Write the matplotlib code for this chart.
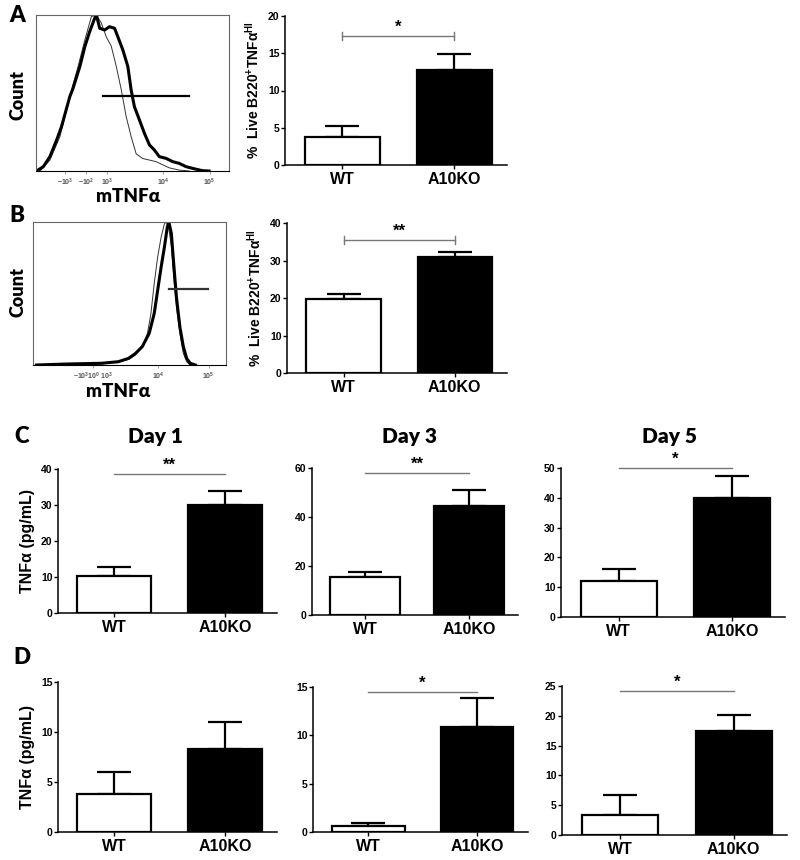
import matplotlib
matplotlib.use('Agg')
import matplotlib.pyplot as plt
import numpy as np

plt.rcParams['font.family'] = ['Liberation Sans', 'DejaVu Sans']
plt.rcParams['font.weight'] = 'bold'
plt.rcParams['mathtext.fontset'] = 'custom'
plt.rcParams['mathtext.rm'] = 'Liberation Sans:bold'
plt.rcParams['mathtext.bf'] = 'Liberation Sans:bold'
plt.rcParams['mathtext.it'] = 'Liberation Sans:bold'

# ---- data ----
groups = ['WT', 'A10KO']

# flow histograms (x = position across plot in %, y = % of max count)
a_x_thick = [0.3, 3.8, 7.2, 10.7, 13.2, 17.5, 19.2, 22.7, 25.3, 27.8, 30.4, 31.3, 33.0, 35.6, 38.1, 40.7, 42.4,
             45.0, 47.6, 49.3, 51.0, 53.6, 56.2, 58.8, 61.3, 63.9, 67.4, 70.8, 74.2, 77.7, 81.1, 86.3, 89.7]
a_y_thick = [0, 2.8, 9.2, 19.9, 28.4, 47.6, 53.0, 66.9, 79.7, 89.3, 97.9, 100, 91.5, 90.4, 92.5, 91.5, 86.1,
             77.6, 66.9, 51.9, 41.2, 32.7, 24.1, 16.7, 13.5, 9.2, 8.1, 6.0, 4.9, 2.8, 1.7, 0.2, 0]
a_x_thin = [2.1, 7.2, 12.4, 15.8, 18.4, 21.8, 25.3, 28.7, 31.3, 33.8, 36.4, 39.0, 41.6, 44.2, 46.7, 49.3,
            51.9, 55.3, 58.8, 62.2, 65.6, 69.1, 74.2, 79.4]
a_y_thin = [0, 7, 22, 39, 52, 67, 84, 99, 100, 95, 86, 80, 67, 52, 35, 22, 11, 8, 7, 6, 4, 2, 0.6, 0]
a_gate = [34.7, 79.4, 48]
a_ticks = [15, 26, 37, 66, 90]
a_ticklabels = [r'$-10^3$', r'$-10^2$', r'$10^3$', r'$10^4$', r'$10^5$']

b_x_thick = [1.8, 17.7, 35.4, 44.2, 49.6, 53.1, 56.6, 60.2, 62.8, 64.6, 66.4, 68.1, 69.6, 70.4, 71.7, 72.9,
             74.3, 76.1, 77.9, 79.6, 81.4, 84.1]
b_y_thick = [0, 0.7, 1.2, 2.3, 4.7, 8.1, 12.8, 22.1, 36.0, 52.3, 68.6, 82.6, 96.5, 100, 91.9, 70.9,
             47.7, 26.7, 12.8, 4.7, 1.2, 0]
b_x_thin = [1.8, 17.7, 35.4, 44.2, 49.6, 53.1, 56.6, 59.3, 61.1, 62.8, 64.6, 66.4, 68.1, 69.0, 70.3, 71.7,
            72.9, 74.3, 76.1, 77.9, 79.6, 81.4]
b_y_thin = [0, 0.5, 0.7, 2.3, 3.9, 7.0, 12.8, 22.1, 36.0, 57.0, 75.6, 89.5, 98.8, 100, 96.5, 82.6,
            61.6, 40.7, 22.1, 8.1, 2.3, 0]
b_gate = [70.3, 90.6, 52.8]
b_ticks = [31, 65, 91]
b_ticklabels = [r'$-10^3 10^0\ 10^3$', r'$10^4$', r'$10^5$']

# bar panels: means and SEM
a_mean, a_err = [3.8, 12.8], [1.4, 2.1]
b_mean, b_err = [19.8, 31.0], [1.2, 1.3]
c1_mean, c1_err = [10.2, 30.0], [2.5, 4.0]
c3_mean, c3_err = [15.5, 44.5], [2.0, 6.5]
c5_mean, c5_err = [12.0, 40.0], [4.0, 7.3]
d1_mean, d1_err = [3.8, 8.3], [2.2, 2.7]
d3_mean, d3_err = [0.6, 10.9], [0.35, 3.0]
d5_mean, d5_err = [3.4, 17.5], [3.3, 2.7]

W, H = 800, 860
fig = plt.figure(figsize=(8, 8.6), dpi=100)


def px_axes(l, t, r, b):
    return fig.add_axes([l / W, 1 - b / H, (r - l) / W, (b - t) / H])


def hist_panel(rect, xs1, ys1, xs2, ys2, gate, ticks, ticklabels, gate_col):
    ax = px_axes(*rect)
    ax.plot(xs2, ys2, color='#333333', lw=0.7)
    ax.plot(xs1, ys1, color='k', lw=2.2)
    ax.plot(gate[:2], [gate[2], gate[2]], color=gate_col, lw=1.6)
    ax.set_xlim(0, 100)
    ax.set_ylim(0, 100)
    ax.set_yticks([])
    ax.set_xticks(ticks)
    ax.set_xticklabels(ticklabels, fontsize=5, color='#555555')
    ax.tick_params(axis='x', length=2, width=0.5, color='#777777', pad=2)
    for s in ax.spines.values():
        s.set_color('#666666')
        s.set_linewidth(0.8)
    ax.spines['bottom'].set_color('k')
    return ax


def bar_panel(rect, mean, err, ymax, step, sig=None, bracket=False, ylabel=None, ylab_size=11.5):
    ax = px_axes(*rect)
    x = np.arange(len(groups))
    ax.bar(x, mean, width=0.67, color=['white', 'black'], edgecolor='black', linewidth=1.6, zorder=2)
    ax.errorbar(x, mean, yerr=[np.zeros(len(err)), err], fmt='none', ecolor='black',
                elinewidth=1.6, capsize=12, capthick=1.6, zorder=1)
    ax.set_xlim(-0.51, 1.47)
    ax.set_ylim(0, ymax)
    ax.set_yticks(np.arange(0, ymax + 0.01, step))
    ax.set_yticklabels([f'{v:g}' for v in np.arange(0, ymax + 0.01, step)], fontsize=7.5, fontweight='bold')
    ax.set_xticks(x)
    ax.set_xticklabels(groups, fontsize=11.5, fontweight='bold')
    ax.tick_params(axis='y', length=3, width=1, pad=1)
    ax.tick_params(axis='x', length=3, width=1, pad=2)
    for s in ['top', 'right']:
        ax.spines[s].set_visible(False)
    for s in ['left', 'bottom']:
        ax.spines[s].set_linewidth(1.1)
    if sig is not None:
        level, stars = sig
        ax.plot([0, 1], [level, level], color='#777777', lw=1.0, clip_on=False)
        if bracket:
            d = ymax * 0.025
            ax.plot([0, 0], [level - d, level + d], color='#777777', lw=1.0, clip_on=False)
            ax.plot([1, 1], [level - d, level + d], color='#777777', lw=1.0, clip_on=False)
        ax.text(0.5, level + ymax * 0.01, stars, ha='center', va='bottom', fontsize=12,
                fontweight='bold', clip_on=False)
    if ylabel:
        ax.set_ylabel(ylabel, fontsize=ylab_size, fontweight='bold', labelpad=4)
    return ax


# ---- panel A ----
hist_panel((36, 15, 229, 171), a_x_thick, a_y_thick, a_x_thin, a_y_thin, a_gate,
           a_ticks, a_ticklabels, 'black')
bar_panel((285, 16, 507, 165), a_mean, a_err, 20, 5, sig=(17.3, '*'), bracket=True,
          ylabel=r'%  Live B220$^{+}$TNFα$^{\mathrm{HI}}$', ylab_size=10)

# ---- panel B ----
hist_panel((33, 222, 226, 365), b_x_thick, b_y_thick, b_x_thin, b_y_thin, b_gate,
           b_ticks, b_ticklabels, '#333333')
bar_panel((287, 223, 507, 373), b_mean, b_err, 40, 10, sig=(35.5, '**'), bracket=True,
          ylabel=r'%  Live B220$^{+}$TNFα$^{\mathrm{HI}}$', ylab_size=10)

# ---- panel C ----
bar_panel((58, 469, 277, 613), c1_mean, c1_err, 40, 10, sig=(38.6, '**'), ylabel='TNFα (pg/mL)')
bar_panel((312, 468, 518, 615), c3_mean, c3_err, 60, 20, sig=(58.0, '**'))
bar_panel((561, 468, 785, 617), c5_mean, c5_err, 50, 10, sig=(50.0, '*'))

# ---- panel D ----
bar_panel((58, 682, 277, 832), d1_mean, d1_err, 15, 5, ylabel='TNFα (pg/mL)')
bar_panel((313, 687, 528, 832), d3_mean, d3_err, 15, 5, sig=(14.5, '*'))
bar_panel((562, 686, 787, 835), d5_mean, d5_err, 25, 5, sig=(24.1, '*'))

# ---- labels in Calibri-like font ----
cal = ['Lato', 'DejaVu Sans']


def ftext(x, y, s, size, rot=0):
    fig.text(x / W, 1 - y / H, s, fontsize=size, fontweight='heavy', family=cal,
             ha='center', va='center', rotation=rot)


ftext(17, 15, 'A', 16)
ftext(17, 215, 'B', 16)
ftext(22, 437, 'C', 16)
ftext(22, 657, 'D', 16)
ftext(18, 95, 'Count', 13, rot=90)
ftext(18, 292, 'Count', 13, rot=90)
ftext(128, 197, 'mTNFα', 13.5)
ftext(118, 392, 'mTNFα', 13.5)
ftext(155, 437, 'Day 1', 15)
ftext(410, 437, 'Day 3', 15)
ftext(670, 437, 'Day 5', 15)

fig.savefig('out.png', dpi=100)
